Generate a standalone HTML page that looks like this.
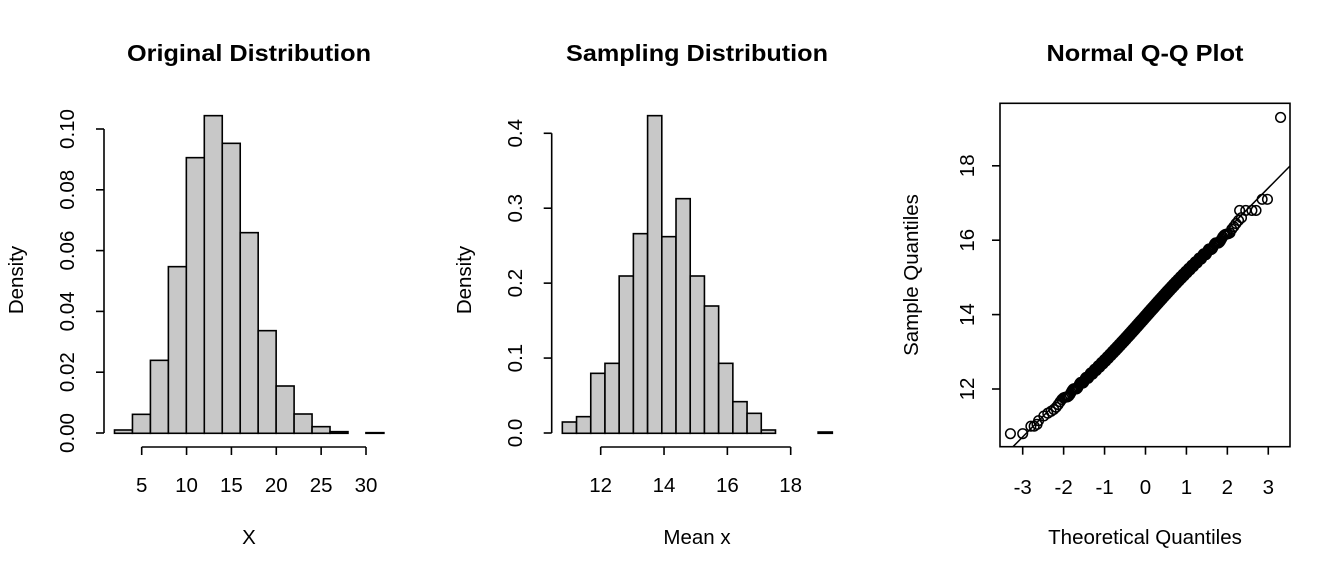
<!DOCTYPE html>
<html><head><meta charset="utf-8"><style>
html,body{margin:0;padding:0;background:#fff}
svg{display:block;font-family:"Liberation Sans",Arial,sans-serif}
</style></head><body>
<svg id="s" width="1344" height="576" viewBox="0 0 1344 576" xmlns="http://www.w3.org/2000/svg">
<rect width="1344" height="576" fill="#fff"/>
<g font-weight="bold" font-size="23.5" text-anchor="middle">
<text x="249" y="61" textLength="244" lengthAdjust="spacingAndGlyphs">Original Distribution</text>
<text x="697" y="61" textLength="262" lengthAdjust="spacingAndGlyphs">Sampling Distribution</text>
<text x="1145" y="61" textLength="197" lengthAdjust="spacingAndGlyphs">Normal Q-Q Plot</text>
</g>
<g font-size="20.5" text-anchor="middle">
<text x="249" y="544">X</text>
<text x="697" y="544">Mean x</text>
<text x="1145" y="544">Theoretical Quantiles</text>
<text transform="translate(23,280) rotate(-90)">Density</text>
<text transform="translate(471,280) rotate(-90)">Density</text>
<text transform="translate(918,275) rotate(-90)">Sample Quantiles</text>
</g>
<g id="p1" stroke="#000" stroke-width="1.6" fill="#c8c8c8"></g>
<g id="p2" stroke="#000" stroke-width="1.6" fill="#c8c8c8"></g>
<g id="ax" stroke="#000" stroke-width="1.6" fill="none"></g>
<g id="tx" font-size="20.5" text-anchor="middle"></g>
<g id="p3" stroke="#000" stroke-width="1.5" fill="none"></g>
</svg>
<script>
var NS="http://www.w3.org/2000/svg";
function el(p,t,a,txt){var e=document.createElementNS(NS,t);for(var k in a)e.setAttribute(k,a[k]);if(txt!=null)e.textContent=txt;document.getElementById(p).appendChild(e);return e;}
var t1=[990,943,781,500,173,47,130,398,692,858,942,980,995,1000,998];
var base1=433.3;
for(var i=0;i<t1.length;i++){var x0=114.5+i*17.96,y=100+t1[i]/3;if(base1-y<0.5)continue;el("p1","rect",{x:x0,y:y,width:17.96,height:base1-y});}
var t2=[966,950,820,790,528,401,47,410,296,528,618,790,905,940,990,1000,1000,1000,996];
for(var i=0;i<t2.length;i++){var x0=520+(127+i*42.63)/3,y=100+t2[i]/3;if(base1-y<0.5)continue;el("p2","rect",{x:x0,y:y,width:14.21,height:base1-y});}
el("ax","line",{x1:104,y1:433,x2:104,y2:129});
for(var i=0;i<6;i++){var y=433-i*60.8;el("ax","line",{x1:104,y1:y,x2:96,y2:y});el("tx","text",{transform:"translate(74,"+y+") rotate(-90)"},(i*0.02).toFixed(2));}
el("ax","line",{x1:141.7,y1:447,x2:366,y2:447});
for(var i=0;i<6;i++){var x=141.7+i*44.86;el("ax","line",{x1:x,y1:447,x2:x,y2:455});el("tx","text",{x:x,y:492},String(5+5*i));}
el("ax","line",{x1:551.7,y1:433,x2:551.7,y2:133.3});
for(var i=0;i<5;i++){var y=433-i*74.93;el("ax","line",{x1:551.7,y1:y,x2:543.7,y2:y});el("tx","text",{transform:"translate(522,"+y+") rotate(-90)"},(i*0.1).toFixed(1));}
el("ax","line",{x1:600.7,y1:447,x2:790.7,y2:447});
for(var i=0;i<4;i++){var x=600.7+i*63.33;el("ax","line",{x1:x,y1:447,x2:x,y2:455});el("tx","text",{x:x,y:492},String(12+2*i));}
el("ax","rect",{x:1000,y:103.3,width:290,height:343.4});
for(var i=-3;i<=3;i++){var x=1022.7+(i+3)*40.93;el("ax","line",{x1:x,y1:446.7,x2:x,y2:454.7});el("tx","text",{x:x,y:494},String(i));}
for(var v=12;v<=18;v+=2){var y=389-(v-12)*37.2;el("ax","line",{x1:1000,y1:y,x2:992,y2:y});el("tx","text",{transform:"translate(974,"+y+") rotate(-90)"},String(v));}
el("p3","line",{x1:1013,y1:446.7,x2:1290,y2:166});
function X(q){return 1022.7+(q+3)*40.93;}function Y(v){return 389-(v-12)*37.2;}
function qn(p){var a=[-39.6968302866538,220.946098424521,-275.928510446969,138.357751867269,-30.6647980661472,2.50662827745924],b=[-54.4760987982241,161.585836858041,-155.698979859887,66.8013118877197,-13.2806815528857],c=[-0.00778489400243029,-0.322396458041136,-2.40075827716184,-2.54973253934373,4.37466414146497,2.93816398269878],d=[0.00778469570904146,0.32246712907004,2.445134137143,3.75440866190742];var q,r;if(p<0.02425){q=Math.sqrt(-2*Math.log(p));return(((((c[0]*q+c[1])*q+c[2])*q+c[3])*q+c[4])*q+c[5])/((((d[0]*q+d[1])*q+d[2])*q+d[3])*q+1);}if(p>1-0.02425){q=Math.sqrt(-2*Math.log(1-p));return-(((((c[0]*q+c[1])*q+c[2])*q+c[3])*q+c[4])*q+c[5])/((((d[0]*q+d[1])*q+d[2])*q+d[3])*q+1);}q=p-0.5;r=q*q;return(((((a[0]*r+a[1])*r+a[2])*r+a[3])*r+a[4])*r+a[5])*q/(((((b[0]*r+b[1])*r+b[2])*r+b[3])*r+b[4])*r+1);}
var n=1000;
for(var i=4;i<n-8;i+=2){var q=qn((i+0.5)/n);var v=14.0+1.114*q+0.08*Math.sin(q*1.6)-0.05+0.04*Math.sin(i*0.37);
 if(q>2.1)v=Math.min(16.8,v+0.05);
 el("p3","circle",{cx:X(q),cy:Y(v),r:4.8});}
var ex=[[-3.3,10.8],[-3.0,10.8],[-2.8,11.0],[-2.72,11.0],[-2.65,11.05],[2.3,16.8],[2.45,16.8],[2.6,16.8],[2.7,16.8],[2.85,17.1],[2.98,17.1],[3.3,19.3]];
ex.forEach(function(p){el("p3","circle",{cx:X(p[0]),cy:Y(p[1]),r:4.8});});
</script>
</body></html>
